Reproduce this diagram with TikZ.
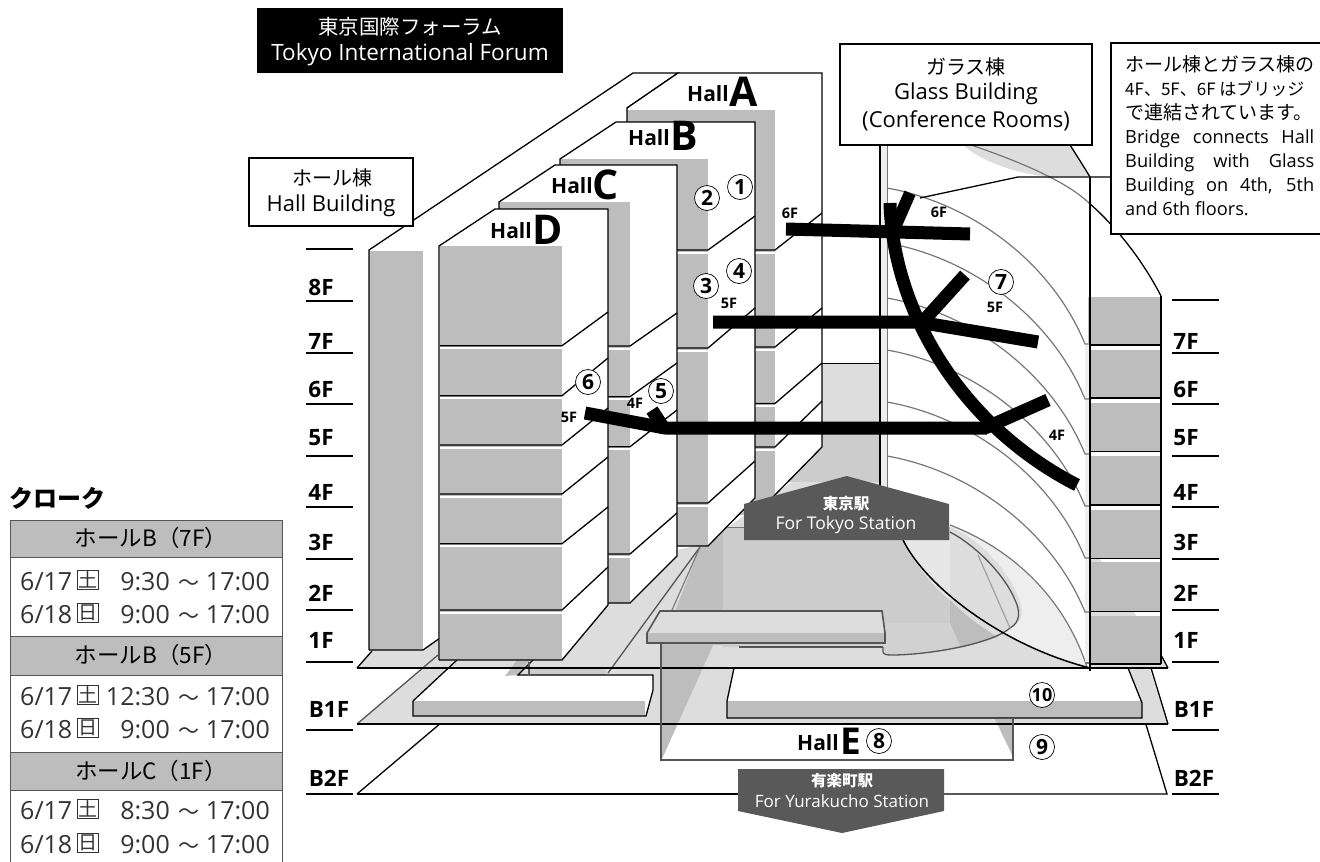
\documentclass[tikz,border=0pt]{standalone}
\usepackage{fontspec}
\setmainfont{Open Sans}
\newfontfamily\jpf{Noto Sans CJK JP}
\newcommand{\fsz}[1]{\fontsize{#1}{#1}\selectfont}
\definecolor{gA}{HTML}{BDBDBD}
\definecolor{gB}{HTML}{DDDDDD}
\definecolor{gC}{HTML}{CCCCCC}
\definecolor{gD}{HTML}{EEEEEE}
\definecolor{gE}{HTML}{555555}
\definecolor{gF}{HTML}{777777}
\definecolor{signc}{HTML}{595959}
\definecolor{txtc}{HTML}{333333}
\tikzset{
  bk/.style={draw=black,line width=1.3pt},
  dk/.style={draw=gE,line width=1.3pt},
  gl/.style={draw=gF,line width=1.2pt},
  brg/.style={draw=black,line width=13pt,line cap=butt,line join=bevel},
  lvl/.style={draw=black,line width=2pt},
  flab/.style={font=\bfseries\fsz{22.5},inner sep=0pt},
  smlab/.style={font=\bfseries\fsz{14.5},inner sep=0pt},
  num/.style={circle,draw=black,line width=.7pt,fill=white,minimum size=25pt,inner sep=0pt,font=\bfseries\fsz{21}},
  hallt/.style={anchor=base west,inner sep=0pt,font=\bfseries\fsz{21}},
  hallb/.style={anchor=base west,inner sep=0pt,font=\fontsize{41}{41}\selectfont\bfseries},
  lbl/.style={draw=black,line width=1.3pt,fill=white,align=center,inner sep=0pt},
  clk/.style={anchor=base west,inner sep=0pt,font=\fsz{25},text=txtc},
  clkr/.style={anchor=base east,inner sep=0pt,font=\fsz{25},text=txtc},
  kan/.style={draw=txtc,line width=.7pt,minimum width=21pt,minimum height=19pt,inner sep=0pt,font=\jpf\fsz{19},text=txtc,anchor=south west},
  hd/.style={draw=gE,line width=1pt,fill=gA},
  hdt/.style={inner sep=0pt,font=\jpf\fsz{22.5}}
}
% front floor: left x, gray right x, y, side right x, side right y
\newcommand{\flr}[5]{\draw[white,line width=2pt] (#1,#3+2.5) -- (#2,#3+2.5);\draw[bk] (#1,#3) -- (#2,#3) -- (#4,#5);}
\begin{document}
\begin{tikzpicture}[x=1pt,y=-1pt]
\useasboundingbox (0,0) rectangle (1320,862);
% B2F lines
\draw[bk] (357,794) -- (448,717);
\draw[bk] (357,794) -- (740,794);
\draw[bk] (940,794) -- (1167,794) -- (1128,665);
% B1F floor
\fill[gB] (357,724) -- (438,655) -- (1145,655) -- (1168,724) -- cycle;
% voids
\fill[white] (413,701) -- (457,660) -- (530,660) -- (518,675) -- (653,675) -- (653,690) -- (646,716) -- (413,716) -- cycle;
\fill[gA] (413,701) rectangle (645,716);
\fill[white] (727,701) -- (734,668) -- (1128,668) -- (1142,703) -- (1142,718) -- (727,718) -- cycle;
\fill[gA] (727,701) rectangle (1142,718);
% 1F floor
\fill[gB] (357,668) -- (372,650) -- (440,600) -- (700,545) -- (1091,545) -- (1161,655) -- (1168,668) -- cycle;
% Hall E shaft shades
\fill[gA] (661,643) -- (714,643) -- (662,759) -- (661,759) -- cycle;
\fill[gA] (995,719) -- (1013,719) -- (1013,757) -- cycle;
\fill[gA] (505,676) -- (517,660) -- (530,660) -- (518,675) -- cycle;
\fill[gC] (529,668) rectangle (606,675);
% interior
\fill[gA!85!gC] (700,547) -- (708,546) -- (728,527) -- (723,527) -- (723,645) -- (662,645) -- cycle;
\fill[gC] (723,527) rectangle (950,623);
\fill[gC!90!white] (723,623) -- (950,623) -- (961,648) .. controls (930,654) and (900,655) .. (887,655) -- (883,647) -- (723,647) -- cycle;
\fill[gC] (723,640) rectangle (739,647);
% white glass body
\fill[white] (888,145) -- (1090,145) -- (1090,668) -- (1087,667) .. controls (1065,600) and (1015,550) .. (950,525) -- (888,500) -- cycle;
% wall, platform
\fill[gB] (822,363) rectangle (880,427);
\fill[gC] (780,427) rectangle (880,482);
\fill[gB] (728,527) -- (792,482) -- (888,482) -- (888,527) -- cycle;
\draw[gF,line width=1pt] (728,527) -- (888,527);
\draw[bk,line width=1pt] (822,363) -- (880,363);
% bowl + light region
\fill[gD] (903,540) .. controls (925,585) and (1000,645) .. (1090,668) -- (1087,667) .. controls (1065,600) and (1015,550) .. (950,525) -- (950,540) -- cycle;
\fill[gB!70!white] (903,540) .. controls (915,565) and (932,585) .. (950,600) -- (950,540) -- cycle;
\fill[gB] (950,527) .. controls (985,540) and (1020,585) .. (1022,612) .. controls (1022,622) and (1012,628) .. (1008,630) .. controls (995,638) and (975,645) .. (961,648) -- (950,623) -- cycle;
\fill[gA] (950,600) .. controls (965,615) and (980,627) .. (998,637) -- (961,648) -- (950,623) -- cycle;
\draw[dk] (883,647) -- (883,652) .. controls (884,655) and (888,655) .. (892,655) .. controls (925,655) and (990,645) .. (1010,628) .. controls (1021,622) and (1020,610) .. (1015,600) .. controls (1005,575) and (975,545) .. (950,532);
\draw[gF!70!white,line width=1.2pt] (978,555) -- (1010,628);
\draw[gF,line width=1.2pt] (950,525) .. controls (1015,550) and (1065,600) .. (1087,667);
\draw[black,line width=1.5pt] (903,540) .. controls (925,585) and (1000,645) .. (1090,668);
% right floor lines
\draw[gE,line width=1.3pt] (739,647) -- (883,647);
\draw[bk] (1128,668) -- (1142,703);
\draw[bk] (734,668) -- (727,701) -- (727,718) -- (1142,718) -- (1142,703);
\draw[bk] (413,701) -- (457,660);
\draw[bk] (413,701) -- (413,716) -- (646,716) -- (653,690) -- (653,675) -- (518,675) -- (533,660);
\draw[dk] (529,662) -- (529,675);
\draw[dk] (357,724) -- (438,655);
\draw[dk] (700,547) -- (608,673);
\draw[gF,line width=1.1pt] (700,547) -- (672,610);
\draw[bk] (1151,668) -- (1168,724);
\draw[bk] (357,724) -- (1168,724);
\draw[bk] (357,668) -- (372,651);
\draw[bk] (1161,655) -- (1168,668);
\draw[bk] (357,668) -- (1168,668);
% Hall E
\draw[dk] (661,643) -- (661,760) -- (1013,760) -- (1013,718);
% roof E
\fill[gB] (660,611) -- (882,611) -- (885,633) -- (647,633) -- cycle;
\fill[gA] (647,633) rectangle (885,643);
\draw[draw=gE,line width=1.6pt] (647,633) -- (660,611) -- (882,611) -- (885,633) -- (885,643) -- (647,643) -- cycle;
% slab
\fill[white] (369,250) -- (633,73) -- (678,73) -- (627,108) -- (440,300) -- (440,638) -- (423,650) -- (369,650) -- cycle;
\fill[gA] (369,251) rectangle (423,650);
\draw[bk] (369,650) -- (369,250) -- (633,73) -- (678,73) -- (627,108);
\draw[bk] (369,650) -- (423,650) -- (440,638);
% Hall A
\fill[white] (627,108) -- (678,73) -- (822,73) -- (822,447) -- (775,495) -- (775,515) -- (627,515) -- cycle;
\fill[gA] (627,110) rectangle (775,515);
\flr{627}{775}{250}{822}{213}
\flr{627}{775}{347}{822}{308}
\flr{627}{775}{403.5}{822}{363}
\flr{627}{775}{447}{822}{401}
\draw[bk] (627,122) -- (627,108) -- (678,73) -- (822,73) -- (822,447) -- (770,500);
% Hall B
\fill[white] (560,159) -- (616,122) -- (755,122) -- (755,498) -- (708,546) -- (560,546) -- cycle;
\fill[gA] (560,159) rectangle (708,546);
\flr{560}{708}{250}{755}{216}
\flr{560}{708}{348}{755}{308}
\flr{560}{708}{503}{755}{461}
\draw[bk] (560,165) -- (560,159) -- (616,122) -- (755,122) -- (755,498) -- (708,546) -- (560,546);
% Hall C
\fill[white] (499,202) -- (555,165) -- (677,165) -- (677,556) -- (630,603) -- (499,603) -- cycle;
\fill[gA] (499,202) rectangle (630,603);
\flr{499}{630}{346}{677}{313}
\flr{499}{630}{396.7}{677}{363}
\flr{499}{630}{446.7}{677}{410}
\flr{499}{630}{554}{677}{513}
\draw[bk] (499,209) -- (499,202) -- (555,165) -- (677,165) -- (677,556) -- (630,603) -- (499,603);
% Hall D
\fill[white] (439,246) -- (495,209) -- (608,209) -- (608,605) -- (562,660) -- (439,660) -- cycle;
\fill[gA] (440,246) rectangle (562,660);
\flr{440}{562}{345.7}{608}{312}
\flr{440}{562}{395.7}{608}{358}
\flr{440}{562}{445}{608}{408}
\flr{440}{562}{494}{608}{457}
\flr{440}{562}{543.7}{608}{507}
\flr{440}{562}{610}{608}{567}
\draw[bk] (439,660) -- (439,246) -- (495,209) -- (608,209) -- (608,605) -- (562,660) -- (439,660);
% glass building
\fill[gD] (880,145) rectangle (888,487);
\draw[bk,line width=1.1pt] (880,145) -- (880,487);
\draw[gF,line width=1.1pt] (887.5,145) -- (887.5,487);
\fill[gB] (963,145) .. controls (980,160) and (1010,172) .. (1043,176) -- (1090,176) .. controls (1083,165) and (1076,155) .. (1070,145) -- cycle;
\fill[gD] (1085,345) rectangle (1091,664);
\foreach \y in {188,243,298,350,402,456}{
  \draw[gl] (887,\y) .. controls (972,\y+15) and (1052,\y+75) .. (1085,\y+156) -- (1091,\y+156);
}
\draw[gl] (1085,663) -- (1091,663);
\draw[gl] (971,145) .. controls (1015,160) and (1065,180) .. (1089,203);
\draw[bk] (1089,203) .. controls (1120,230) and (1145,265) .. (1161,296);
\draw[bk] (1070,145) .. controls (1077,156) and (1084,167) .. (1090,177);
% right boxes
\fill[gA] (1088,297) rectangle (1161,345);
\foreach \a/\bb in {350/398,402.5/451.5,456/505,510/558.5,562/611.5,616/664}{
  \fill[gA] (1091,\a) rectangle (1161,\bb);
}
\foreach \bb in {345,398,451.5,505,558.5,611.5,664}{
  \draw[bk] (1091,\bb) -- (1161,\bb);
}
\draw[bk] (1161,296) -- (1161,664);
\draw[bk] (1090,177) -- (1090,671);
% bridges
\draw[brg] (786,229) -- (970,234);
\draw[brg] (713,322) -- (918,322) -- (1038,342);
\draw[brg] (585,413) -- (665,428) -- (987,428);
\draw[brg] (652,410) -- (665,430);
\draw[brg] (1048,400) -- (985,428);
\draw[brg] (965,275) -- (918,327);
\draw[brg,line width=12pt] (910,193) -- (896,225);
\draw[brg] (890,203) .. controls (893,310) and (960,425) .. (1077,485);
% leader and boxes
\node[lbl,minimum width=164pt,minimum height=68pt] (hallbox) at (331,192) {};
\node[inner sep=0pt,font=\jpf\fsz{20}] (hallj) at (332,178) {ホール棟};
\node[inner sep=0pt,font=\fsz{22}] (halle) at (331,206) {Hall Building};
\node[lbl,minimum width=252pt,minimum height=101pt] (glassbox) at (966,94.5) {};
\node[inner sep=0pt,font=\jpf\fsz{20}] (glassj) at (966,67) {ガラス棟};
\node[inner sep=0pt,font=\fsz{22}] (glasse) at (966,94) {Glass Building};
\node[inner sep=0pt,font=\fsz{22}] (glassc) at (966,121) {(Conference Rooms)};
\coordinate (leadA) at (920,198);
\coordinate (leadB) at (1018,177);
\coordinate (leadC) at (1111,177);
\draw[draw=black,line width=1.3pt] (leadA) -- (leadB) -- (leadC);
\fill[white] (1111,43) rectangle (1320,234);
\draw[bk] (1320,43) -- (1111,43) -- (1111,234) -- (1320,234);
\node[anchor=north west,inner sep=0pt,align=left,font=\fontsize{18.2}{24}\selectfont] (note) at (1125,55) {%
{\jpf\fontsize{19}{24}\selectfont ホール棟とガラス棟の}\\
{\jpf\fontsize{17}{24}\selectfont 4F、5F、6F はブリッジ}\\
{\jpf\fontsize{19}{24}\selectfont で連結されています。}\\
\makebox[189pt][s]{Bridge connects Hall}\\
\makebox[189pt][s]{Building with Glass}\\
\makebox[189pt][s]{Building on 4th, 5th}\\
and 6th floors.};
% title
\node[fill=black,minimum width=306pt,minimum height=65pt,inner sep=0pt] (title) at (410,40.5) {};
\node[text=white,inner sep=0pt,font=\jpf\fsz{20.5}] (titlej) at (410,27) {東京国際フォーラム};
\node[text=white,inner sep=0pt,font=\fsz{22.5}] (titlee) at (410,55) {Tokyo International Forum};
% hall names
\node[hallt] (hA) at (687,101.5) {Hall};\node[hallb] (bA) at (729,106.7) {A};
\node[hallt] (hB) at (628,145.7) {Hall};\node[hallb] (bB) at (670,150) {B};
\node[hallt] (hC) at (551,193) {Hall};\node[hallb] (bC) at (592,199) {C};
\node[hallt] (hD) at (490,238) {Hall};\node[hallb] (bD) at (532,244) {D};
\node[hallt] (hE) at (797,750) {Hall};\node[hallb,font=\fontsize{37}{37}\selectfont\bfseries] (bE) at (840,754) {E};
% circled numbers
\node[num] (n1) at (740,187) {1};
\node[num] (n2) at (707,198) {2};
\node[num] (n3) at (706,286) {3};
\node[num] (n4) at (739,271) {4};
\node[num] (n5) at (661,391) {5};
\node[num] (n6) at (588,382) {6};
\node[num] (n7) at (1001,282) {7};
\node[num] (n8) at (879,741) {8};
\node[num] (n9) at (1042,747) {9};
\node[num,font=\bfseries\fsz{18}] (n10) at (1042,695) {10};
% small labels
\node[smlab] (s1) at (790,213) {6F};
\node[smlab] (s2) at (939,212) {6F};
\node[smlab] (s3) at (729,303) {5F};
\node[smlab] (s4) at (995,307) {5F};
\node[smlab] (s5) at (635,403) {4F};
\node[smlab] (s6) at (569,417) {5F};
\node[smlab] (s7) at (1057,435) {4F};
% level lines
\foreach \y in {249,301,352.7,404,456,507,559,610,662,730,794}{
  \draw[lvl] (306,\y) -- (353,\y);
}
\foreach \y in {300,352.7,404,456,507,559,610,662,730,794}{
  \draw[lvl] (1172,\y) -- (1219,\y);
}
\foreach \t/\y in {8F/287,7F/341,6F/389,5F/438,4F/492,3F/542,2F/593,1F/640}{
  \node[flab] at (321,\y) {\t};
}
\node[flab] at (329,709) {B1F};
\node[flab] at (329,778) {B2F};
\foreach \t/\y in {7F/341,6F/389,5F/438,4F/492,3F/542,2F/593,1F/640}{
  \node[flab] at (1186,\y) {\t};
}
\node[flab] at (1194,709) {B1F};
\node[flab] at (1194,778) {B2F};
% signs
\fill[signc] (846.7,476) -- (949,504) -- (949,540) -- (744,540) -- (744,504) -- cycle;
\node[text=white,inner sep=0pt,font=\jpf\bfseries\fsz{15.5}] (tokj) at (846,504) {東京駅};
\node[text=white,inner sep=0pt,font=\fsz{17.5}] (toke) at (846,525) {For Tokyo Station};
\fill[signc] (738,769) -- (944,769) -- (944,811) -- (842,833) -- (738,811) -- cycle;
\node[text=white,inner sep=0pt,font=\jpf\bfseries\fsz{15.5}] (yuj) at (842,781) {有楽町駅};
\node[text=white,inner sep=0pt,font=\fsz{17}] (yue) at (842,801) {For Yurakucho Station};
% cloakroom table
\node[inner sep=0pt,font=\jpf\bfseries\fsz{24},anchor=west] (clk) at (9,498) {クローク};
\draw[draw=gE,line width=1pt] (10,520) -- (10,862);
\draw[draw=gE,line width=1pt] (282,520) -- (282,862);
\draw[hd] (10,520) rectangle (282,557);
\draw[hd] (10,636) rectangle (282,675);
\draw[hd] (10,752) rectangle (282,790);
\node[hdt] (h1) at (151,538) {ホールB（7F）};
\node[hdt] (h2) at (151,655) {ホールB（5F）};
\node[hdt] (h3) at (151,771) {ホールC（1F）};
\foreach \bl/\dd/\kk/\st in {590/6\slash 17/土/9:30,623/6\slash 18/日/9:00,705/6\slash 17/土/12:30,738/6\slash 18/日/9:00,819/6\slash 17/土/8:30,853/6\slash 18/日/9:00}{
  \node[clk] at (20,\bl) {\dd};
  \node[kan] at (77,\bl) {\kk};
  \node[clkr] at (170,\bl) {\st};
  \node[anchor=base,inner sep=0pt,font=\jpf\fsz{21},text=txtc] at (189,\bl) {～};
  \node[clkr] at (270,\bl) {17:00};
}
\end{tikzpicture}
\end{document}
